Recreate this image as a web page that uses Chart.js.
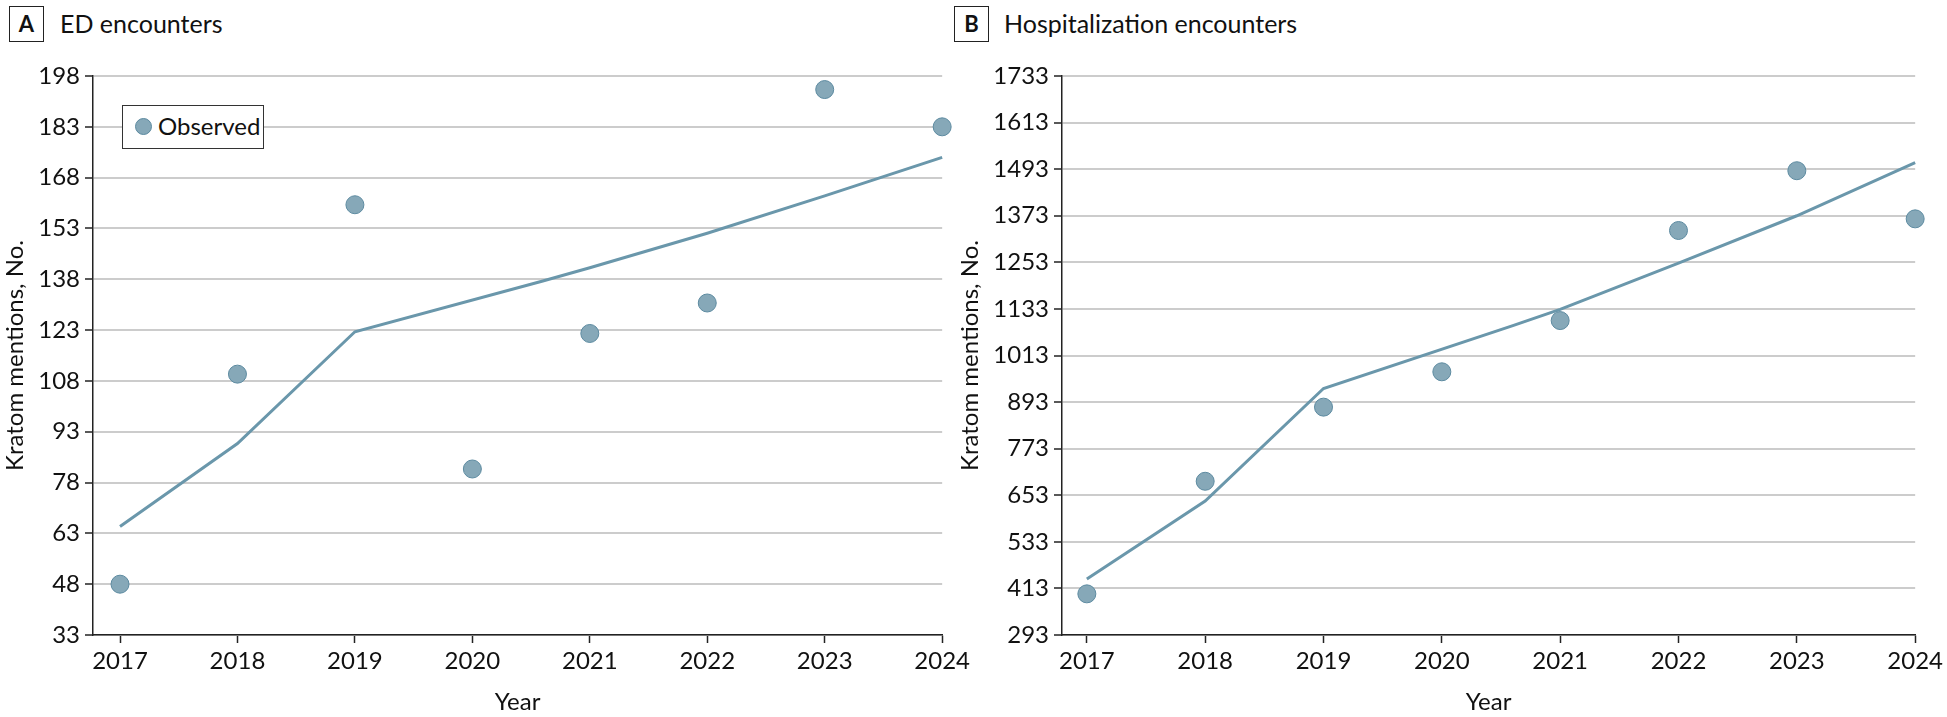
<!DOCTYPE html>
<html>
<head>
<meta charset="utf-8">
<script src="https://cdn.jsdelivr.net/npm/chart.js@4.4.1/dist/chart.umd.min.js"></script>
<style>
  html, body { margin: 0; padding: 0; background: #fff; }
  body { width: 1947px; height: 717px; position: relative; overflow: hidden; font-family: Lato, "Open Sans", sans-serif; color: #111; }
  canvas { position: absolute; }
  .tag { position: absolute; width: 33px; height: 34px; border: 1.5px solid #222; font-weight: bold; font-size: 22px; line-height: 34px; text-align: center; }
  .title { position: absolute; font-size: 25px; line-height: 30px; }
  .legend { position: absolute; left: 122px; top: 105px; width: 140px; height: 42px; border: 1.5px solid #333; background: #fff; }
  .legend .dot { position: absolute; left: 12px; top: 12px; width: 17px; height: 17px; border-radius: 50%; background: #86a8b8; border: 1px solid #5c8aa0; box-sizing: border-box; }
  .legend .lbl { position: absolute; left: 35px; top: 5px; font-size: 24px; line-height: 30px; }
</style>
</head>
<body>
<div class="tag" style="left:9px; top:6px;">A</div>
<div class="title" style="left:60px; top:8px;">ED encounters</div>
<div class="tag" style="left:954px; top:6px;">B</div>
<div class="title" style="left:1004px; top:8px;">Hospitalization encounters</div>

<canvas id="chartA" width="974" height="667" style="left:0; top:50px;"></canvas>
<canvas id="chartB" width="992" height="667" style="left:955px; top:50px;"></canvas>

<div class="legend"><div class="dot"></div><div class="lbl">Observed</div></div>

<script>
// ---------------- data ----------------
const years = [2017, 2018, 2019, 2020, 2021, 2022, 2023, 2024];
const fitYears = [2017, 2018, 2019, 2020.6, 2021, 2022, 2023, 2024];

const edObserved = [48, 110, 160, 82, 122, 131, 194, 183];
const edFitted = [65, 89.5, 122.5, 137.5, 141.4, 151.6, 162.6, 174];
const edTicks = [33, 48, 63, 78, 93, 108, 123, 138, 153, 168, 183, 198];

const hospObserved = [399, 689, 880, 971, 1103, 1335, 1489, 1365];
const hospFitted = [437, 638, 928, 1090, 1132, 1251, 1373, 1510];
const hospTicks = [293, 413, 533, 653, 773, 893, 1013, 1133, 1253, 1373, 1493, 1613, 1733];

// ---------------- style ----------------
Chart.defaults.font.family = 'Lato, "Open Sans", sans-serif';
Chart.defaults.color = '#111';

const dotFill = '#86a8b8';
const dotEdge = '#5c8aa0';
const lineColor = '#6a97ab';

function makePanel(id, observed, fitted, yTicks, opts) {
  const obsPts = years.map((y, i) => ({ x: y, y: observed[i] }));
  const fitPts = fitYears.map((y, i) => ({ x: y, y: fitted[i] }));

  return new Chart(document.getElementById(id), {
    type: 'scatter',
    data: {
      datasets: [
        {
          label: 'Observed',
          data: obsPts,
          pointRadius: 9,
          pointBackgroundColor: dotFill,
          pointBorderColor: dotEdge,
          pointBorderWidth: 1,
          clip: false,
          order: 0
        },
        {
          label: 'Fitted',
          data: fitPts,
          showLine: true,
          borderColor: lineColor,
          borderWidth: 3,
          pointRadius: 0,
          clip: false,
          order: 1
        }
      ]
    },
    options: {
      responsive: false,
      animation: false,
      devicePixelRatio: 1,
      layout: { padding: { top: 26, right: opts.padRight, left: 0, bottom: 0 } },
      plugins: { legend: { display: false }, tooltip: { enabled: false } },
      scales: {
        x: {
          type: 'linear',
          min: opts.xMin,
          max: 2024,
          afterBuildTicks: (s) => { s.ticks = years.map(v => ({ value: v })); },
          afterFit: (s) => { s.height = 82; },
          grid: { display: true, drawOnChartArea: false, drawTicks: true, tickLength: 8, tickColor: '#222', tickWidth: 1.5 },
          border: { color: '#222', width: 1.5 },
          ticks: { font: { size: 24 }, padding: 4, color: '#111', maxRotation: 0, callback: (v) => String(v) },
          title: { display: true, text: 'Year', font: { size: 24 }, color: '#111', padding: 0 }
        },
        y: {
          type: 'linear',
          min: yTicks[0],
          max: yTicks[yTicks.length - 1],
          afterBuildTicks: (s) => { s.ticks = yTicks.map(v => ({ value: v })); },
          afterFit: (s) => { s.width = opts.yWidth; },
          grid: { color: '#cccccc', lineWidth: 2, drawTicks: true, tickLength: 8, tickColor: '#222', tickWidth: 1.5 },
          border: { color: '#222', width: 1.5 },
          ticks: { font: { size: 24 }, padding: 5, color: '#111', callback: (v) => String(v) },
          title: { display: true, text: 'Kratom mentions, No.', font: { size: 24 }, color: '#111', padding: { top: opts.titlePad, bottom: 0 } }
        }
      }
    }
  });
}

makePanel('chartA', edObserved, edFitted, edTicks, { xMin: 2016.77, padRight: 27, yWidth: 93, titlePad: 1 });
makePanel('chartB', hospObserved, hospFitted, hospTicks, { xMin: 2016.79, padRight: 30.5, yWidth: 107, titlePad: 1 });
</script>
</body>
</html>
